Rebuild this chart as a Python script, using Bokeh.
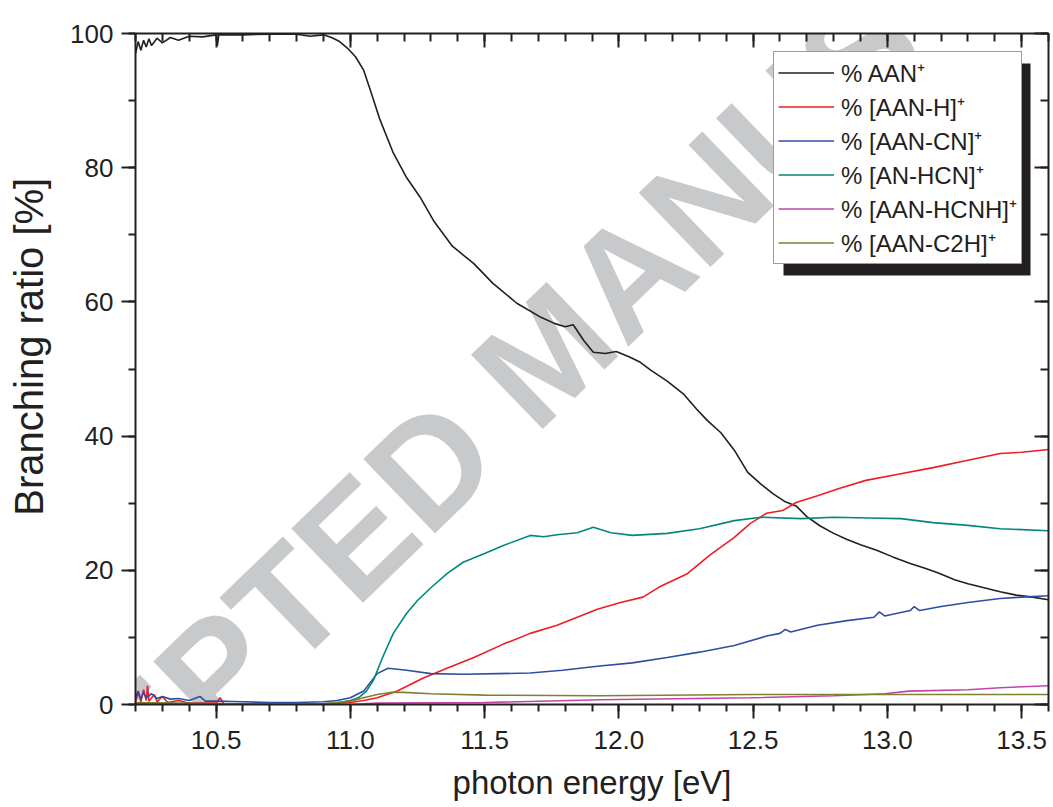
from bokeh.plotting import figure
from bokeh.models import (Range1d, LinearAxis, SingleIntervalTicker, PrintfTickFormatter,
                          CustomJSTickFormatter, Legend, LegendItem, Label, BoxAnnotation)
from bokeh.embed import file_html
from bokeh.resources import INLINE

# ---------------- data ----------------
aan_x = [10.20, 10.21, 10.22, 10.23, 10.24, 10.25, 10.26, 10.28, 10.30, 10.33, 10.36, 10.40,
         10.45, 10.50, 10.505, 10.51, 10.60, 10.70, 10.80, 10.85, 10.90, 10.93, 10.96, 10.99,
         11.02, 11.05, 11.075, 11.11, 11.16, 11.21, 11.26, 11.31, 11.38, 11.46, 11.53, 11.62,
         11.71, 11.76, 11.80, 11.83, 11.87, 11.905, 11.95, 11.99, 12.04, 12.08, 12.12, 12.18,
         12.24, 12.29, 12.33, 12.38, 12.43, 12.48, 12.53, 12.575, 12.62, 12.66, 12.70, 12.75,
         12.80, 12.85, 12.90, 12.96, 13.02, 13.085, 13.14, 13.19, 13.25, 13.30, 13.36, 13.42,
         13.48, 13.54, 13.60]
aan_y = [97.0, 98.8, 97.5, 99.0, 98.0, 99.2, 98.2, 99.3, 98.6, 99.4, 99.0, 99.6,
         99.5, 99.8, 98.2, 99.8, 99.8, 99.9, 99.9, 99.6, 99.8, 99.4, 98.8, 97.8,
         96.5, 94.5, 91.5, 87.2, 82.2, 78.5, 75.6, 72.1, 68.3, 65.7, 62.8, 59.8,
         57.7, 56.8, 56.3, 56.6, 54.2, 52.5, 52.3, 52.6, 51.8, 51.0, 49.8, 48.2,
         46.3, 44.0, 42.3, 40.5, 37.9, 34.6, 32.8, 31.4, 30.2, 29.6, 28.0, 26.6,
         25.5, 24.6, 23.8, 23.0, 22.0, 21.0, 20.3, 19.6, 18.6, 18.0, 17.4, 16.8,
         16.3, 16.0, 15.6]

aanh_x = [10.20, 10.21, 10.22, 10.23, 10.24, 10.245, 10.25, 10.27, 10.28, 10.30, 10.32, 10.36,
          10.40, 10.45, 10.50, 10.515, 10.53, 10.60, 10.70, 10.80, 10.90, 11.00, 11.05, 11.10,
          11.175, 11.27, 11.36, 11.46, 11.57, 11.67, 11.77, 11.845, 11.92, 12.006, 12.09, 12.15,
          12.255, 12.34, 12.43, 12.49, 12.55, 12.61, 12.66, 12.74, 12.82, 12.92, 13.05, 13.17,
          13.30, 13.42, 13.50, 13.60]
aanh_y = [0.5, 1.8, 0.4, 2.2, 0.6, 2.8, 0.5, 1.5, 0.4, 1.2, 0.3, 0.6,
          0.2, 0.2, 0.2, 1.0, 0.1, 0.1, 0.05, 0.05, 0.1, 0.3, 0.6, 1.0,
          2.0, 3.9, 5.4, 7.0, 9.0, 10.6, 11.8, 13.0, 14.2, 15.2, 16.0, 17.5,
          19.5, 22.3, 24.9, 27.0, 28.5, 28.9, 30.1, 31.1, 32.2, 33.4, 34.4, 35.3,
          36.4, 37.4, 37.6, 38.0]

aancn_x = [10.20, 10.21, 10.22, 10.23, 10.24, 10.26, 10.28, 10.30, 10.33, 10.36, 10.40, 10.44,
           10.46, 10.50, 10.60, 10.70, 10.80, 10.90, 10.95, 11.00, 11.05, 11.10, 11.14, 11.21,
           11.30, 11.42, 11.55, 11.67, 11.79, 11.92, 12.05, 12.18, 12.30, 12.43, 12.55, 12.60,
           12.62, 12.64, 12.74, 12.85, 12.95, 12.97, 12.99, 13.085, 13.10, 13.12, 13.20, 13.30,
           13.42, 13.50, 13.60]
aancn_y = [1.0, 2.0, 0.8, 1.8, 1.0, 1.6, 0.9, 1.2, 0.8, 0.9, 0.6, 1.2,
           0.5, 0.5, 0.4, 0.3, 0.3, 0.4, 0.6, 1.0, 2.0, 4.6, 5.4, 5.1,
           4.6, 4.5, 4.6, 4.7, 5.1, 5.7, 6.2, 7.0, 7.8, 8.8, 10.2, 10.6,
           11.2, 10.8, 11.8, 12.5, 13.0, 13.8, 13.2, 14.0, 14.6, 14.0, 14.6, 15.2,
           15.8, 16.0, 16.2]

anhcn_x = [10.20, 10.50, 10.90, 10.95, 11.00, 11.03, 11.06, 11.086, 11.12, 11.16, 11.21, 11.25,
           11.30, 11.36, 11.42, 11.50, 11.57, 11.67, 11.72, 11.77, 11.845, 11.905, 11.97, 12.05,
           12.18, 12.30, 12.43, 12.53, 12.68, 12.80, 12.93, 13.05, 13.17, 13.30, 13.42, 13.60]
anhcn_y = [0.2, 0.1, 0.1, 0.2, 0.6, 1.0, 2.0, 3.6, 7.0, 10.6, 13.6, 15.5,
           17.4, 19.5, 21.2, 22.5, 23.7, 25.2, 25.0, 25.3, 25.6, 26.4, 25.6, 25.2,
           25.5, 26.2, 27.4, 27.9, 27.7, 27.9, 27.8, 27.7, 27.1, 26.7, 26.2, 25.9]

hcnh_x = [10.20, 11.00, 11.10, 11.50, 11.93, 12.49, 12.80, 12.99, 13.08, 13.30, 13.42, 13.60]
hcnh_y = [0.0, 0.0, 0.2, 0.3, 0.7, 1.0, 1.3, 1.6, 2.0, 2.2, 2.5, 2.8]

c2h_x = [10.20, 10.50, 10.90, 11.00, 11.05, 11.10, 11.15, 11.20, 11.30, 11.50, 11.93, 12.50,
         13.00, 13.60]
c2h_y = [0.3, 0.1, 0.1, 0.5, 1.0, 1.5, 1.8, 1.8, 1.6, 1.4, 1.3, 1.5, 1.5, 1.5]

series_labels = ["% AAN\u207a", "% [AAN-H]\u207a", "% [AAN-CN]\u207a", "% [AN-HCN]\u207a",
                 "% [AAN-HCNH]\u207a", "% [AAN-C2H]\u207a"]
series_colors = ["#231f20", "#ee1c25", "#2d4fa3", "#00877f", "#c146a4", "#7f8030"]

x_label = "photon energy [eV]"
y_label = "Branching ratio [%]"
watermark = "ACCEPTED MANUSCRIPT"

FONT = "Liberation Sans"
INK = "#231f20"

# ---------------- figure ----------------
p = figure(width=1053, height=807, output_backend="svg", toolbar_location=None,
           x_range=Range1d(10.2, 13.6), y_range=Range1d(0, 100),
           min_border_left=135, min_border_top=33, min_border_right=5, min_border_bottom=103,
           x_axis_label=x_label, y_axis_label="\u00a0" * 4 + y_label)
p.xgrid.visible = False
p.ygrid.visible = False
p.outline_line_color = None
p.background_fill_color = "white"
p.border_fill_color = "white"

# watermark underneath everything
p.add_layout(Label(x=11.734, y=52.5, text=watermark, angle=44, angle_units="deg",
                   text_align="center", text_baseline="middle", text_font=FONT,
                   text_font_style="bold", text_font_size="150px", text_color="#c8c9cb",
                   level="underlay"))

xs = [aan_x, aanh_x, aancn_x, anhcn_x, hcnh_x, c2h_x]
ys = [aan_y, aanh_y, aancn_y, anhcn_y, hcnh_y, c2h_y]
renderers = []
for xv, yv, col in zip(xs, ys, series_colors):
    renderers.append(p.line(xv, yv, line_color=col, line_width=1.6))


def style_axis(ax, inward):
    ax.axis_line_color = INK
    ax.axis_line_width = 2
    ax.major_tick_line_color = INK
    ax.minor_tick_line_color = INK
    ax.major_tick_line_width = 2
    ax.minor_tick_line_width = 2
    if inward:
        ax.major_tick_in, ax.major_tick_out = 14, 0
        ax.minor_tick_in, ax.minor_tick_out = 8, 0
    else:
        ax.major_tick_in, ax.major_tick_out = 0, 14
        ax.minor_tick_in, ax.minor_tick_out = 0, 7
    ax.major_label_text_font = FONT
    ax.major_label_text_font_size = "26px"
    ax.major_label_text_color = INK
    ax.axis_label_text_font = FONT
    ax.axis_label_text_font_style = "normal"
    ax.axis_label_text_color = INK


xa = p.xaxis[0]
xa.ticker = SingleIntervalTicker(interval=0.5, num_minor_ticks=5)
xa.formatter = PrintfTickFormatter(format="%.1f")
style_axis(xa, False)
xa.major_label_standoff = 12
xa.axis_label_text_font_size = "33px"
xa.axis_label_standoff = 12

ya = p.yaxis[0]
ya.ticker = SingleIntervalTicker(interval=20, num_minor_ticks=2)
style_axis(ya, False)
ya.major_label_standoff = 8
ya.axis_label_text_font_size = "40px"
ya.axis_label_standoff = 16

top = LinearAxis(ticker=SingleIntervalTicker(interval=0.5, num_minor_ticks=5),
                 formatter=CustomJSTickFormatter(code="return ''"))
style_axis(top, True)
top.major_label_standoff = 0
p.add_layout(top, "above")

right = LinearAxis(ticker=SingleIntervalTicker(interval=20, num_minor_ticks=2),
                   formatter=CustomJSTickFormatter(code="return ''"))
style_axis(right, True)
right.major_label_standoff = 0
p.add_layout(right, "right")

# legend shadow
p.add_layout(BoxAnnotation(left=648, right=895, top=641, bottom=429,
                           left_units="screen", right_units="screen",
                           top_units="screen", bottom_units="screen",
                           fill_color=INK, fill_alpha=1, line_color=None))

legend = Legend(items=[LegendItem(label=lab, renderers=[r]) for lab, r in zip(series_labels, renderers)],
                location=(638, 440), label_text_font=FONT, label_text_font_size="24px",
                label_text_color=INK, glyph_width=56, glyph_height=33, label_height=33,
                label_standoff=7, padding=4, spacing=1, margin=0,
                border_line_color="#3a3a3a", border_line_width=1,
                background_fill_color="white", background_fill_alpha=1)
p.add_layout(legend)

open("out.html", "w").write(file_html(p, INLINE))
